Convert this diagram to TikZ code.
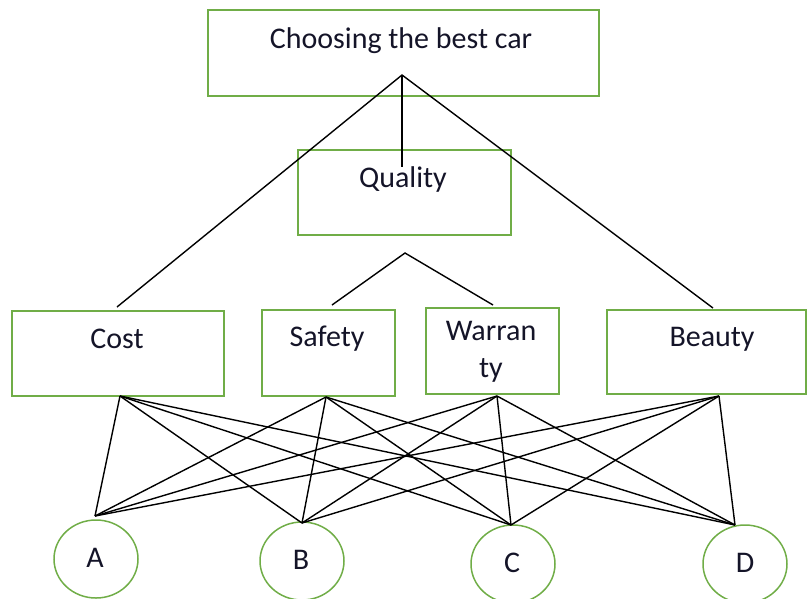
\documentclass[tikz,border=0pt]{standalone}
\usepackage{fontspec}
\setmainfont{Carlito}
\definecolor{boxgreen}{RGB}{112,173,71}
\definecolor{txt}{RGB}{20,20,40}
\begin{document}
\begin{tikzpicture}[x=1pt,y=-1pt,
  gbox/.style={draw=boxgreen,line width=1.5pt,inner sep=0pt},
  lbl/.style={font=\fontsize{30}{37}\selectfont,text=txt},
  wire/.style={draw=black,line width=1.4pt}]
\useasboundingbox (0,0) rectangle (808,598);
% boxes
\draw[gbox] (208,10) rectangle (599,96);
\node[lbl] (top) at (401,41) {Choosing the best car};
\draw[gbox] (298,150) rectangle (511,235);
\node[lbl] (quality) at (403,179) {Quality};
\draw[gbox] (12,311) rectangle (224,396);
\node[lbl] (cost) at (117,339) {Cost};
\draw[gbox] (262,310) rectangle (395,396);
\node[lbl] (safety) at (327,339) {Safety};
\draw[gbox] (426,308) rectangle (559,394);
\node[lbl,align=center] (warranty) at (491,352) {Warran\\ty};
\draw[gbox] (607,310) rectangle (806,394);
\node[lbl] (beauty) at (712,339) {Beauty};
% circles
\draw[gbox] (96,559) ellipse [x radius=42, y radius=39];
\node[lbl] (A) at (95,558) {A};
\draw[gbox] (302,561) ellipse [x radius=42, y radius=39];
\node[lbl] (B) at (301,560) {B};
\draw[gbox] (513,564) ellipse [x radius=42, y radius=39];
\node[lbl] (C) at (512,563) {C};
\draw[gbox] (745,564) ellipse [x radius=42, y radius=39];
\node[lbl] (D) at (745,563) {D};
% coordinates
\coordinate (apex) at (402,75);
\coordinate (qend) at (402,167);
\coordinate (costtop) at (117,307);
\coordinate (beautytop) at (713,308);
\coordinate (qapex) at (405,253);
\coordinate (safetytop) at (332,305);
\coordinate (warrtop) at (493,305);
\coordinate (hc) at (120,396);
\coordinate (hs) at (326,397);
\coordinate (hw) at (497,396);
\coordinate (hb) at (719,396);
\coordinate (ta) at (95,516);
\coordinate (tb) at (302,523);
\coordinate (tc) at (511,525);
\coordinate (td) at (735,525);
% connectors
\draw[wire] (costtop) -- (apex) -- (beautytop);
\draw[wire] (apex) -- (qend);
\draw[wire] (safetytop) -- (qapex) -- (warrtop);
\foreach \h in {hc,hs,hw,hb}{
  \foreach \t in {ta,tb,tc,td}{
    \draw[wire] (\h) -- (\t);
  }
}
\end{tikzpicture}
\end{document}
